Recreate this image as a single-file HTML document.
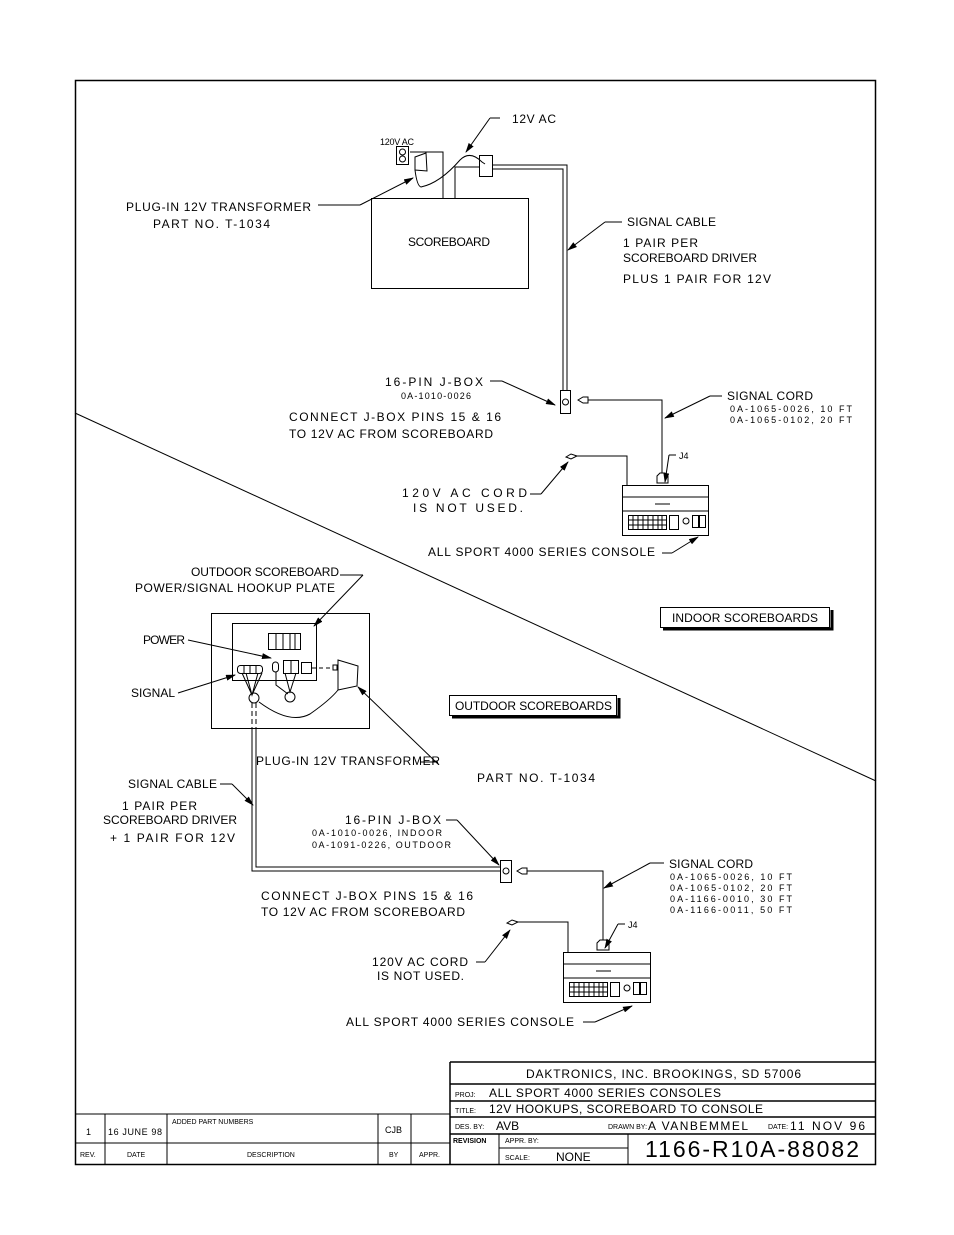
<!DOCTYPE html>
<html><head><meta charset="utf-8"><style>
html,body{margin:0;padding:0;background:#fff}
svg{display:block}
text{font-family:"Liberation Sans",sans-serif;fill:#000}
.t{font-size:12px}
.s{font-size:9px}
</style></head><body>
<svg width="954" height="1235" viewBox="0 0 954 1235" xmlns="http://www.w3.org/2000/svg">
<defs><marker id="a" markerWidth="10" markerHeight="6" refX="9" refY="3" orient="auto" markerUnits="userSpaceOnUse"><path d="M0,0 L10,3 L0,6 Z" fill="#000"/></marker></defs>
<g fill="none" stroke="#000" stroke-width="1">
<rect x="75.5" y="80.5" width="800" height="1084" stroke-width="1.5"/>
<line x1="75" y1="413" x2="876" y2="781"/>

<!-- TOP -->
<rect x="371.5" y="198.5" width="157" height="90"/>
<rect x="396.5" y="146.5" width="12" height="18"/>
<circle cx="402.5" cy="152" r="3"/><circle cx="402.5" cy="159" r="3"/>
<path d="M410,152 H443 V198" /><path d="M415,157 L426,153 L427,171 L415,170 Z"/>
<path d="M415,170 Q417,186 421,187 Q440,183 460,160 Q470,150 482,162 L485,164"/>
<rect x="479.5" y="155.5" width="13" height="21"/>
<path d="M455,198 V167 H480"/>
<path d="M492,165 H567 V390 M492,169 H563 V390" stroke-width="1"/>
<rect x="560.5" y="390.5" width="10" height="23"/><circle cx="565.5" cy="402" r="3"/>
<path d="M578,400 L583,397 L588,397 L588,403 L583,403 Z"/>
<path d="M588,400 H662 V473"/>
<path d="M657,483 L657,476 L660,473 L665,473 L668,476 L668,483 Z"/>
<path d="M566,457 L571,454 L577,456 L571,459 Z"/><path d="M577,456 H627 V485"/>
<rect x="622.5" y="485.5" width="86" height="50"/>
<line x1="622" y1="497" x2="708" y2="497"/><line x1="622" y1="511" x2="708" y2="511"/>
<rect x="628.5" y="515.5" width="38" height="14"/>
<path d="M633,515 V529 M638,515 V529 M643,515 V529 M648,515 V529 M653,515 V529 M658,515 V529 M662,515 V529 M628,520 H666 M628,525 H666"/>
<rect x="669.5" y="515.5" width="9" height="14"/><circle cx="686" cy="521" r="3"/>
<rect x="692.5" y="515.5" width="6" height="12"/><rect x="699.5" y="515.5" width="6" height="12"/>
<line x1="655" y1="504" x2="670" y2="504"/>
<line x1="500" y1="118" x2="490" y2="118"/><line x1="490" y1="118" x2="466" y2="152" marker-end="url(#a)"/>
<path d="M318,205 H360"/><line x1="360" y1="205" x2="413" y2="178" marker-end="url(#a)"/>
<path d="M622,222 H605"/><line x1="605" y1="222" x2="568" y2="250" marker-end="url(#a)"/>
<path d="M490,381 H502"/><line x1="502" y1="381" x2="555" y2="405" marker-end="url(#a)"/>
<path d="M722,396 H710"/><line x1="710" y1="396" x2="665" y2="418" marker-end="url(#a)"/>
<path d="M676,455 H669"/><line x1="669" y1="455" x2="665" y2="482" marker-end="url(#a)"/>
<path d="M530,494 H541"/><line x1="541" y1="494" x2="568" y2="462" marker-end="url(#a)"/>
<path d="M662,553 H672"/><line x1="672" y1="553" x2="698" y2="537" marker-end="url(#a)"/>
<rect x="660.5" y="607.5" width="169" height="20"/><path d="M663,629 H832 V610" stroke-width="3"/>

<!-- BOTTOM -->
<rect x="211.5" y="613.5" width="158" height="115"/>
<rect x="232.5" y="623.5" width="84" height="57"/>
<rect x="268.5" y="633.5" width="32" height="16"/><path d="M276,633 V649 M283,633 V649 M290,633 V649 M295,633 V649"/>
<rect x="283.5" y="660.5" width="15" height="13"/><path d="M291,660 V673"/>
<rect x="301.5" y="662.5" width="10" height="11"/>
<rect x="272.5" y="662" width="6" height="10" rx="3"/>
<rect x="237.5" y="665.5" width="25" height="8" rx="3"/><path d="M244,665 V673 M250,665 V673 M256,665 V673"/>
<path d="M242,673 L252,695 L262,673 M246,673 L252,695 L258,673"/>
<circle cx="254" cy="698" r="5"/><circle cx="290" cy="697" r="5"/>
<path d="M285,673 L290,692 L296,673 M276,672 L276,685 L288,694"/>
<path d="M312,668 H333" stroke-dasharray="4,3"/>
<rect x="333" y="665" width="4" height="5"/>
<path d="M338,660 L358,666 L357,686 L338,690 Z"/>
<path d="M259,702 Q290,725 310,714 Q330,700 338,690"/>
<path d="M252,703 V728 M256,703 V728" stroke-dasharray="5,3"/>
<path d="M252,728 V871 H500 M256,728 V867 H500"/>
<rect x="500.5" y="860.5" width="11" height="22"/><circle cx="506" cy="871" r="3"/>
<path d="M517,871 L522,868 L527,868 L527,874 L522,874 Z"/>
<path d="M527,871 H603 V940"/>
<path d="M597,950 L597,943 L600,940 L606,940 L609,943 L609,950 Z"/>
<path d="M507,923 L512,920 L518,922 L512,925 Z"/><path d="M518,922 H568 V952"/>
<rect x="563.5" y="952.5" width="87" height="50"/>
<line x1="563" y1="964" x2="650" y2="964"/><line x1="563" y1="978" x2="650" y2="978"/>
<rect x="569.5" y="982.5" width="38" height="14"/>
<path d="M574,982 V996 M579,982 V996 M584,982 V996 M589,982 V996 M594,982 V996 M599,982 V996 M603,982 V996 M569,987 H607 M569,992 H607"/>
<rect x="610.5" y="982.5" width="9" height="14"/><circle cx="627" cy="988" r="3"/>
<rect x="633.5" y="982.5" width="6" height="12"/><rect x="640.5" y="982.5" width="6" height="12"/>
<line x1="596" y1="971" x2="611" y2="971"/>
<path d="M340,575 H363"/><line x1="363" y1="575" x2="314" y2="626" marker-end="url(#a)"/>
<line x1="188" y1="640" x2="271" y2="658" marker-end="url(#a)"/>
<line x1="178" y1="693" x2="235" y2="675" marker-end="url(#a)"/>
<line x1="438" y1="764" x2="358" y2="687" marker-end="url(#a)"/>
<line x1="420" y1="762" x2="438" y2="762"/>
<rect x="449.5" y="695.5" width="167" height="20"/><path d="M452,717 H619 V698" stroke-width="3"/>
<path d="M220,784 H232"/><line x1="232" y1="784" x2="253" y2="805" marker-end="url(#a)"/>
<path d="M446,820 H457"/><line x1="457" y1="820" x2="499" y2="865" marker-end="url(#a)"/>
<path d="M664,863 H650"/><line x1="650" y1="863" x2="604" y2="888" marker-end="url(#a)"/>
<path d="M625,924 H618"/><line x1="618" y1="924" x2="605" y2="948" marker-end="url(#a)"/>
<path d="M476,962 H485"/><line x1="485" y1="962" x2="510" y2="930" marker-end="url(#a)"/>
<path d="M583,1022 H595"/><line x1="595" y1="1022" x2="632" y2="1006" marker-end="url(#a)"/>

<!-- TITLE BLOCK -->
<path d="M450,1062 H876 M450,1084 H876 M450,1101 H876 M450,1117 H876 M450,1134 H876 M450,1062 V1164" stroke-width="1.5"/>
<path d="M499,1134 V1164 M499,1148 H628 M628,1134 V1164"/>
<path d="M75,1114 H450 M75,1143 H450 M105,1114 V1164 M167,1114 V1164 M378,1114 V1164 M411,1114 V1164"/>
</g>

<g class="t">
<text x="512" y="123" textLength="44">12V AC</text>
<text x="380" y="145" class="s" textLength="34">120V AC</text>
<text x="126" y="211" textLength="185">PLUG-IN 12V TRANSFORMER</text>
<text x="153" y="228" textLength="117">PART NO. T-1034</text>
<text x="408" y="246" textLength="82">SCOREBOARD</text>
<text x="627" y="226" textLength="89">SIGNAL CABLE</text>
<text x="623" y="247" textLength="75">1 PAIR PER</text>
<text x="623" y="262" textLength="134">SCOREBOARD DRIVER</text>
<text x="623" y="283" textLength="148">PLUS 1 PAIR FOR 12V</text>
<text x="385" y="386" textLength="98">16-PIN J-BOX</text>
<text x="401" y="399" class="s" textLength="70">0A-1010-0026</text>
<text x="289" y="421" textLength="212">CONNECT J-BOX PINS 15 &amp; 16</text>
<text x="289" y="438" textLength="204">TO 12V AC FROM SCOREBOARD</text>
<text x="727" y="400" textLength="86">SIGNAL CORD</text>
<text x="730" y="412" class="s" textLength="122">0A-1065-0026, 10 FT</text>
<text x="730" y="423" class="s" textLength="122">0A-1065-0102, 20 FT</text>
<text x="679" y="459" class="s">J4</text>
<text x="402" y="497" textLength="125">120V AC CORD</text>
<text x="413" y="512" textLength="110">IS NOT USED.</text>
<text x="428" y="556" textLength="227">ALL SPORT 4000 SERIES CONSOLE</text>
<text x="672" y="622" textLength="146">INDOOR SCOREBOARDS</text>
<text x="191" y="576" textLength="148">OUTDOOR SCOREBOARD</text>
<text x="135" y="592" textLength="200">POWER/SIGNAL HOOKUP PLATE</text>
<text x="143" y="644" textLength="42">POWER</text>
<text x="131" y="697" textLength="44">SIGNAL</text>
<text x="455" y="710" textLength="157">OUTDOOR SCOREBOARDS</text>
<text x="256" y="765" textLength="184">PLUG-IN 12V TRANSFORMER</text>
<text x="477" y="782" textLength="118">PART NO. T-1034</text>
<text x="128" y="788" textLength="89">SIGNAL CABLE</text>
<text x="122" y="810" textLength="75">1 PAIR PER</text>
<text x="103" y="824" textLength="134">SCOREBOARD DRIVER</text>
<text x="110" y="842" textLength="125">+ 1 PAIR FOR 12V</text>
<text x="345" y="824" textLength="96">16-PIN J-BOX</text>
<text x="312" y="836" class="s" textLength="130">0A-1010-0026, INDOOR</text>
<text x="312" y="848" class="s" textLength="139">0A-1091-0226, OUTDOOR</text>
<text x="261" y="900" textLength="212">CONNECT J-BOX PINS 15 &amp; 16</text>
<text x="261" y="916" textLength="204">TO 12V AC FROM SCOREBOARD</text>
<text x="669" y="868" textLength="84">SIGNAL CORD</text>
<text x="670" y="880" class="s" textLength="122">0A-1065-0026, 10 FT</text>
<text x="670" y="891" class="s" textLength="122">0A-1065-0102, 20 FT</text>
<text x="670" y="902" class="s" textLength="122">0A-1166-0010, 30 FT</text>
<text x="670" y="913" class="s" textLength="122">0A-1166-0011, 50 FT</text>
<text x="628" y="928" class="s">J4</text>
<text x="372" y="966" textLength="96">120V AC CORD</text>
<text x="377" y="980" textLength="87">IS NOT USED.</text>
<text x="346" y="1026" textLength="228">ALL SPORT 4000 SERIES CONSOLE</text>

<text x="526" y="1078" textLength="275">DAKTRONICS, INC.  BROOKINGS, SD 57006</text>
<text x="455" y="1097" class="s" style="font-size:7px">PROJ:</text>
<text x="489" y="1097" textLength="232">ALL SPORT 4000 SERIES CONSOLES</text>
<text x="455" y="1113" style="font-size:7px">TITLE:</text>
<text x="489" y="1113" textLength="274">12V HOOKUPS, SCOREBOARD TO CONSOLE</text>
<text x="455" y="1129" style="font-size:7px">DES. BY:</text>
<text x="496" y="1130">AVB</text>
<text x="608" y="1129" style="font-size:7px">DRAWN BY:</text>
<text x="648" y="1130" textLength="100">A VANBEMMEL</text>
<text x="768" y="1129" style="font-size:7px">DATE:</text>
<text x="790" y="1130" textLength="75">11 NOV 96</text>
<text x="453" y="1143" style="font-size:7px;font-weight:bold">REVISION</text>
<text x="505" y="1143" style="font-size:7px">APPR. BY:</text>
<text x="505" y="1160" style="font-size:7px">SCALE:</text>
<text x="556" y="1161">NONE</text>
<text x="645" y="1157" style="font-size:23px" textLength="214">1166-R10A-88082</text>
<text x="86" y="1135" class="s">1</text>
<text x="108" y="1135" class="s" textLength="54">16 JUNE 98</text>
<text x="172" y="1124" style="font-size:7px">ADDED PART NUMBERS</text>
<text x="385" y="1133" class="s">CJB</text>
<text x="80" y="1157" style="font-size:7px">REV.</text>
<text x="127" y="1157" style="font-size:7px">DATE</text>
<text x="247" y="1157" style="font-size:7px">DESCRIPTION</text>
<text x="389" y="1157" style="font-size:7px">BY</text>
<text x="419" y="1157" style="font-size:7px">APPR.</text>
</g>
</svg>
</body></html>
